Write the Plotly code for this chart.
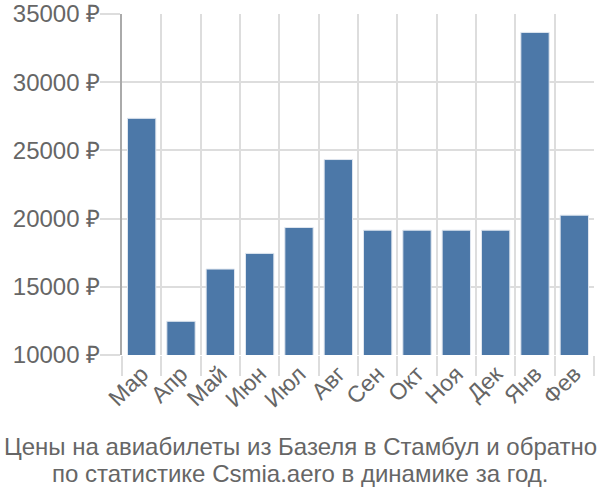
import plotly.graph_objects as go

months = ['Мар', 'Апр', 'Май', 'Июн', 'Июл', 'Авг', 'Сен', 'Окт', 'Ноя', 'Дек', 'Янв', 'Фев']
prices = [27350, 12470, 16300, 17450, 19350, 24330, 19150, 19150, 19150, 19150, 33650, 20250]
y_ticks = [10000, 15000, 20000, 25000, 30000, 35000]
y_labels = [str(v) + ' ₽' for v in y_ticks]
title_lines = ['Цены на авиабилеты из Базеля в Стамбул и обратно',
			   'по статистике Csmia.aero в динамике за год.']

fig = go.Figure()
fig.add_trace(go.Bar(
	x = months,
	y = prices,
	marker = dict(color = '#4c78a8', line = dict(color = '#dfe6ef', width = 1)),
))

# title lines as two annotations, centred on the page (plot spans x 122..594)
title_y = [-0.268, -0.348]
annotations = []
for line, yy in zip(title_lines, title_y):
	annotations.append(dict(
		text = line,
		x = (300 - 122) / 472, xref = 'paper', xanchor = 'center',
		y = yy, yref = 'paper', yanchor = 'middle',
		showarrow = False,
		font = dict(size = 24, color = '#666666'),
	))

fig.update_layout(
	width = 600,
	height = 500,
	autosize = False,
	margin = dict(l = 122, r = 6, t = 14, b = 145, pad = 0),
	font = dict(family = 'Liberation Sans, Arial', color = '#666666', size = 24),
	plot_bgcolor = 'white',
	paper_bgcolor = 'white',
	bargap = 0.28,
	showlegend = False,
	annotations = annotations,
)

fig.update_xaxes(
	tickson = 'boundaries',
	ticks = 'outside',
	ticklen = 20,
	tickcolor = '#dddddd',
	tickwidth = 2,
	showgrid = True,
	gridcolor = '#dddddd',
	gridwidth = 2,
	tickangle = -45,
	tickfont = dict(size = 23),
	showline = False,
	automargin = False,
)
fig.update_yaxes(
	range = [10000, 35000],
	tickmode = 'array',
	tickvals = y_ticks,
	ticktext = y_labels,
	ticks = 'outside',
	ticklen = 20,
	tickcolor = '#dddddd',
	tickwidth = 2,
	tickfont = dict(size = 24),
	ticklabeloverflow = 'allow',
	ticklabelstandoff = -5,
	gridcolor = '#dddddd',
	gridwidth = 2,
	showline = True,
	linecolor = '#aaaaaa',
	linewidth = 2,
	zeroline = False,
	automargin = False,
)

fig.write_html('out.html', config = dict(displayModeBar = False),
			   post_script = "document.body.style.margin = '0';")
